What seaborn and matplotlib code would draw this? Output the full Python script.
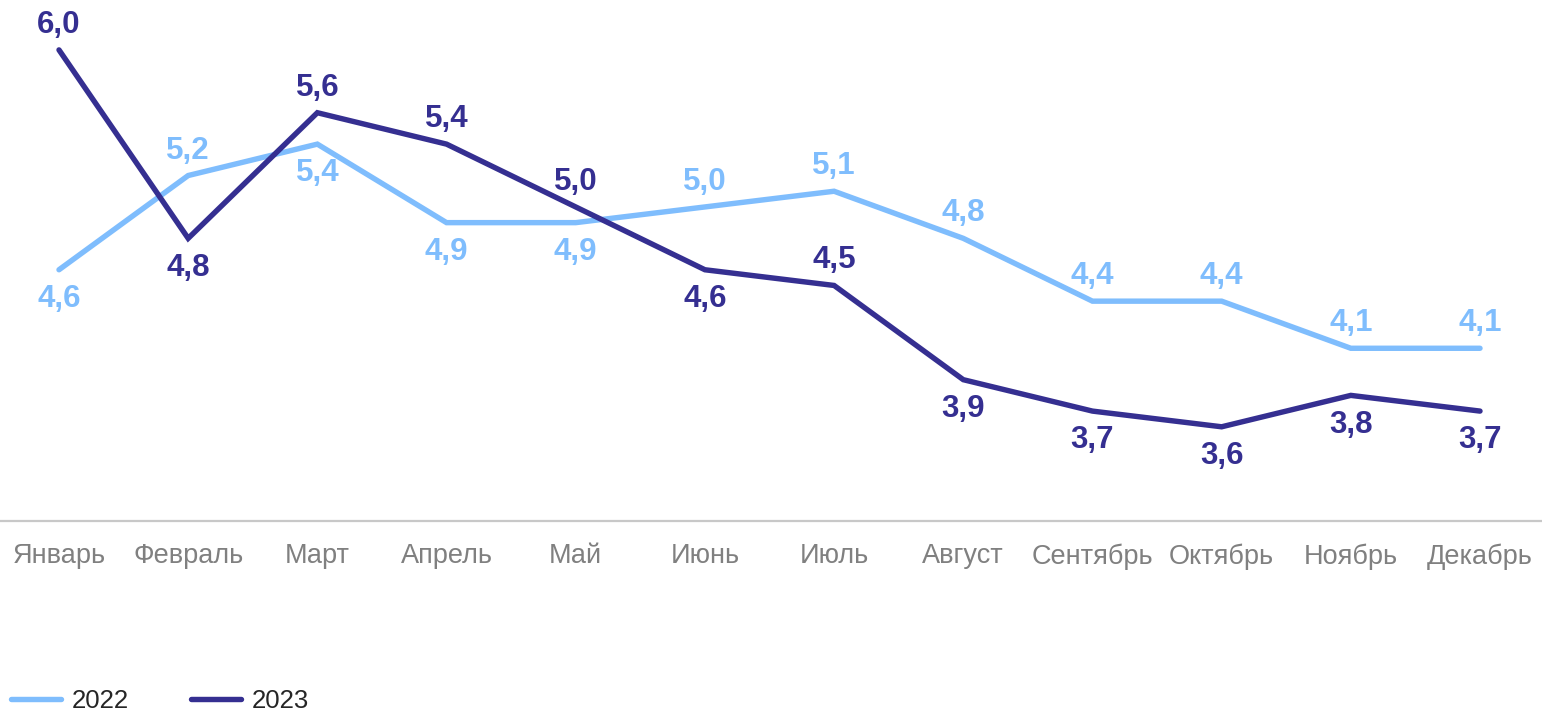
import pandas as pd
import numpy as np
import matplotlib
matplotlib.use("Agg")
import matplotlib.pyplot as plt
import seaborn as sns

# %%
months = ["Январь", "Февраль", "Март", "Апрель", "Май", "Июнь",
          "Июль", "Август", "Сентябрь", "Октябрь", "Ноябрь", "Декабрь"]
vals_2022 = [4.6, 5.2, 5.4, 4.9, 4.9, 5.0, 5.1, 4.8, 4.4, 4.4, 4.1, 4.1]
vals_2023 = [6.0, 4.8, 5.6, 5.4, 5.0, 4.6, 4.5, 3.9, 3.7, 3.6, 3.8, 3.7]
# label side for each point: 1 = above, -1 = below
side_2022 = [-1, 1, -1, -1, -1, 1, 1, 1, 1, 1, 1, 1]
side_2023 = [1, -1, 1, 1, 1, -1, 1, -1, -1, -1, -1, -1]

colors = {"2022": "#7FBDFD", "2023": "#352F91"}

df = pd.DataFrame({
    "x": list(range(len(months))) * 2,
    "value": vals_2022 + vals_2023,
    "year": ["2022"] * len(months) + ["2023"] * len(months),
})

# %%
sns.set_style("white")
plt.rcParams["font.family"] = ["Liberation Sans", "DejaVu Sans"]

fig = plt.figure(figsize=(15.42, 7.15), dpi=100)
ax = fig.add_axes([-5.6 / 1542, 0.2713, 1550.2 / 1542, 0.7248])

sns.lineplot(data=df, x="x", y="value", hue="year", palette=colors,
             linewidth=3.9, ax=ax, legend=False, sort=False)
for line in ax.lines:
    line.set_solid_capstyle("round")
    line.set_solid_joinstyle("miter")

for year, vals, sides in [("2022", vals_2022, side_2022), ("2023", vals_2023, side_2023)]:
    for i, (v, s) in enumerate(zip(vals, sides)):
        dy = 18 if s > 0 else -21
        ax.annotate(f"{v:.1f}".replace(".", ","), xy=(i, v), xytext=(0, dy),
                    textcoords="offset points", ha="center", va="center",
                    fontsize=22.5, fontweight="bold", color=colors[year])

ax.set_xlim(-0.5, len(months) - 0.5)
ax.set_ylim(3.0, 6.3)
ax.set_xticks(range(len(months)))
ax.set_xticklabels(months, fontsize=19.5, color="#808080")
ax.set_yticks([])
ax.tick_params(axis="x", length=0, pad=16)
ax.set_xlabel("")
ax.set_ylabel("")
for sp in ["top", "right", "left"]:
    ax.spines[sp].set_visible(False)
ax.spines["bottom"].set_color("#C8C8C8")
ax.spines["bottom"].set_linewidth(1.6)

handles = [plt.Line2D([], [], color=colors[y], linewidth=3.9) for y in ["2022", "2023"]]
fig.legend(handles, ["2022", "2023"], loc="center left", bbox_to_anchor=(0.0072, 0.02),
           ncol=2, frameon=False, fontsize=18.5, handlelength=1.95,
           handletextpad=0.42, columnspacing=2.4, borderpad=0, borderaxespad=0)

fig.savefig("out.png", dpi=100)
